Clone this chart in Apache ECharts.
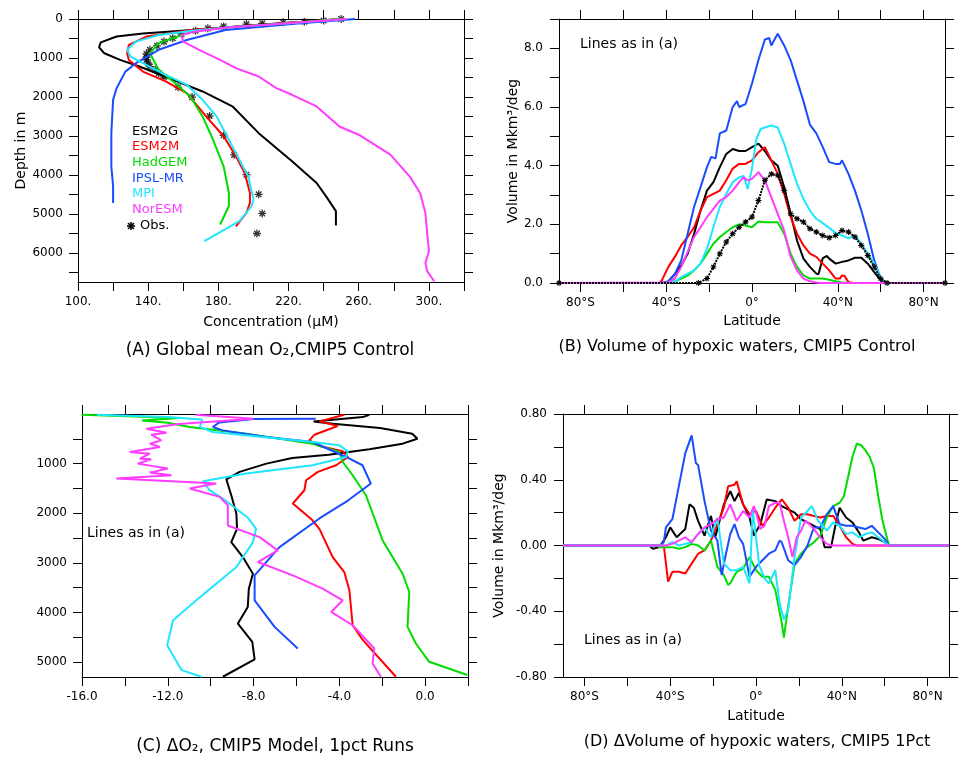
<!DOCTYPE html>
<html>
<head>
<meta charset="utf-8">
<script src="https://cdn.jsdelivr.net/npm/echarts@6/dist/echarts.min.js"></script>
<style>
  html, body { margin: 0; padding: 0; background: #fff; }
  #chart { width: 958px; height: 759px; }
</style>
</head>
<body>
<div id="chart"></div>
<script>
// ---- data ----
// (A) global mean O2 profiles: [concentration uM, depth m]
var esm2gA = [[251,0],[203,150],[165,280],[137,370],[122,450],[113,600],[112,725],[115,880],[124,1050],[135,1220],[152,1520],[171,1860],[188,2240],[203,2930],[222,3650],[236,4210],[242,4590],[247,4930],[247,5300]];
var esm2mA = [[250,0],[205,150],[165,280],[139,450],[129,665],[128,880],[129,1050],[137,1350],[150,1600],[162,1900],[173,2500],[183,3010],[190,3525],[195,3950],[198,4465],[198,4720],[196,4975],[190,5320]];
var hadgemA = [[249,0],[222,100],[185,220],[165,320],[146,620],[141,880],[143,1050],[146,1300],[154,1600],[164,1990],[171,2500],[177,3100],[183,3780],[186,4465],[186,4800],[181,5275]];
var ipslA = [[258,0],[222,130],[184,280],[162,540],[146,790],[133,1135],[127,1350],[122,1775],[120,2075],[119,2930],[119,3780],[120,4290],[120,4720]];
var mpiA = [[253,0],[220,110],[185,220],[165,300],[146,410],[133,580],[128,790],[130,965],[137,1135],[148,1390],[162,1690],[171,2075],[179,2500],[186,3100],[193,3700],[197,4040],[200,4630],[199,4800],[192,5190],[172,5700]];
var norA = [[253,0],[220,110],[185,220],[166,330],[159,410],[160,580],[169,790],[181,1050],[190,1260],[203,1475],[213,1775],[222,1945],[236,2245],[249,2760],[260,2970],[278,3480],[289,4040],[295,4465],[298,4975],[299,5490],[300,5960],[298,6260],[299,6470],[303,6730]];
var obsA = [[250,0],[240,40],[229,70],[217,85],[205,110],[196,130],[183,190],[174,240],[167,300],[159,385],[154,495],[149,580],[145,690],[141,790],[139,895],[139,980],[139,1050],[140,1135],[141,1220],[144,1305],[146,1390],[149,1490],[157,1750],[165,2005],[175,2490],[183,2985],[189,3490],[196,3995],[203,4500],[205,4990],[202,5505]];

// (B) volume of hypoxic waters: [latitude, Mkm3/deg]
var esm2gB = [[-90,0],[-42,0],[-39,0.05],[-36,0.3],[-33,0.6],[-30,1.0],[-27,1.68],[-24,2.47],[-21,3.15],[-18,3.44],[-15,3.95],[-12,4.4],[-9,4.57],[-6,4.5],[-3,4.5],[0,4.63],[3,4.75],[6,4.5],[9,4.18],[12,4.0],[15,3.27],[18,2.36],[21,1.45],[24,0.83],[27,0.55],[30,0.32],[31,0.3],[33,0.85],[35,0.92],[36,0.83],[39,0.66],[42,0.72],[45,0.77],[48,0.86],[51,0.86],[54,0.66],[57,0.37],[60,0.09],[62,0],[90,0]];
var esm2mB = [[-90,0],[-43,0],[-42,0.1],[-39,0.55],[-36,0.89],[-33,1.28],[-30,1.57],[-27,1.9],[-24,2.47],[-21,2.93],[-18,3.04],[-15,3.15],[-12,3.5],[-9,3.9],[-6,4.06],[-3,4.06],[0,4.18],[3,4.46],[6,4.63],[9,4.18],[12,3.72],[15,3.04],[18,2.25],[21,1.68],[24,1.28],[27,1.0],[30,0.89],[33,0.66],[36,0.43],[39,0.15],[41,0.15],[42,0.26],[43,0.25],[45,0.03],[47,0],[90,0]];
var hadgemB = [[-90,0],[-40,0],[-36,0.05],[-33,0.15],[-30,0.26],[-27,0.43],[-24,0.66],[-21,1.0],[-18,1.34],[-15,1.57],[-12,1.74],[-9,1.9],[-6,2.0],[-3,1.96],[0,1.9],[3,2.1],[6,2.07],[9,2.07],[12,2.07],[15,1.68],[18,1.0],[21,0.55],[24,0.26],[27,0.15],[30,0.15],[33,0.15],[36,0.11],[39,0.06],[42,0.02],[45,0],[90,0]];
var ipslB = [[-90,0],[-42,0],[-39,0.05],[-36,0.3],[-33,0.77],[-30,1.68],[-27,2.6],[-24,3.27],[-21,3.95],[-19,4.3],[-17,4.25],[-15,5.1],[-12,5.2],[-9,6.0],[-7,6.2],[-6,6.0],[-3,6.1],[0,6.8],[3,7.6],[6,8.3],[8,8.35],[9,8.1],[12,8.5],[15,8.1],[18,7.6],[21,6.9],[24,6.2],[27,5.4],[30,5.1],[33,4.63],[36,4.12],[39,4.06],[41,4.06],[42,4.18],[45,3.72],[48,3.15],[51,2.47],[54,1.68],[57,0.77],[60,0.15],[63,0],[90,0]];
var mpiB = [[-90,0],[-40,0],[-36,0.05],[-33,0.2],[-30,0.32],[-27,0.43],[-24,0.66],[-21,1.17],[-18,1.9],[-15,2.6],[-12,3.04],[-9,3.44],[-6,3.6],[-4,3.65],[-3,3.44],[-2,3.2],[0,3.9],[2,4.9],[4,5.25],[6,5.3],[9,5.37],[12,5.3],[15,4.75],[18,4.06],[21,3.38],[24,2.87],[27,2.47],[30,2.19],[33,2.04],[36,1.88],[39,1.7],[42,1.62],[45,1.52],[48,1.62],[51,1.34],[54,1.0],[57,0.66],[60,0.2],[62,0],[90,0]];
var norB = [[-90,0],[-39,0.02],[-36,0.15],[-33,0.55],[-30,1.06],[-27,1.57],[-24,1.9],[-21,2.25],[-18,2.53],[-15,2.81],[-12,2.93],[-9,3.15],[-6,3.44],[-4,3.6],[-2,3.5],[0,3.55],[3,3.78],[6,3.5],[9,2.93],[12,2.36],[15,1.79],[18,0.89],[21,0.43],[24,0.15],[27,0.06],[30,0.02],[32,0],[90,0]];
var obsB = [[-90,0],[-25,0],[-21,0.15],[-18,0.55],[-15,1.0],[-12,1.4],[-9,1.68],[-6,1.9],[-3,2.08],[0,2.25],[3,2.81],[6,3.5],[9,3.72],[12,3.67],[15,3.15],[18,2.36],[21,2.19],[24,2.08],[27,1.85],[30,1.74],[33,1.62],[36,1.54],[39,1.62],[42,1.79],[45,1.74],[48,1.57],[51,1.28],[54,0.94],[57,0.55],[60,0.15],[63,0],[90,0]];

// (C) change in O2, 1pct runs: [delta O2, depth m]
var esm2gC = [[-2.6,15],[-2.9,62],[-5.2,149],[-4.3,196],[-2.1,283],[-0.6,397],[-0.36,498],[-1.05,598],[-2.6,712],[-4.5,819],[-6.2,886],[-7.4,1000],[-8.65,1167],[-9.27,1315],[-9.04,1637],[-8.8,2012],[-8.77,2314],[-9.04,2581],[-8.5,2883],[-8.03,3218],[-8.22,3520],[-8.27,3888],[-8.73,4223],[-8.06,4591],[-7.95,4947],[-9.43,5295]];
var esm2mC = [[-3.77,15],[-4.93,149],[-4.08,243],[-5.16,417],[-5.4,531],[-4.93,645],[-3.84,752],[-3.6,866],[-4.15,1033],[-5.0,1167],[-5.55,1335],[-5.63,1536],[-6.17,1804],[-5.3,2120],[-4.93,2314],[-4.31,2883],[-3.77,3185],[-3.53,3553],[-3.38,4257],[-2.9,4558],[-1.36,5295]];
var hadgemC = [[-16,15],[-11.5,80],[-13.2,130],[-12.0,175],[-10.98,263],[-8.34,397],[-5.24,598],[-4.0,766],[-3.84,967],[-3.38,1234],[-2.76,1637],[-2.37,2092],[-1.98,2548],[-1.05,3218],[-0.74,3587],[-0.82,4290],[-0.43,4625],[0.19,4994],[1.97,5261]];
var ipslC = [[-5.1,95],[-8.0,100],[-9.6,170],[-9.9,263],[-9.43,330],[-7.4,464],[-5.24,565],[-3.69,866],[-2.92,1033],[-2.53,1402],[-3.6,1744],[-4.93,2105],[-6.79,2682],[-7.95,3251],[-7.95,3754],[-7.02,4290],[-5.94,4725]];
var mpiC = [[-15.3,15],[-12.0,60],[-10.4,110],[-10.36,129],[-10.5,263],[-9.9,364],[-7.57,464],[-5.24,565],[-4.0,632],[-3.6,752],[-3.69,866],[-5.24,1033],[-8.34,1201],[-10.36,1355],[-10.05,1536],[-9.43,1704],[-8.26,2092],[-7.88,2314],[-8.03,2581],[-8.8,3084],[-10.67,3754],[-11.75,4156],[-12.03,4658],[-11.36,5161],[-10.43,5295]];
var norC = [[-10.7,15],[-8.0,95],[-11.5,200],[-13.0,297],[-12.06,377],[-12.77,417],[-12.3,531],[-12.84,598],[-12.37,665],[-13.77,766],[-12.84,799],[-13.3,900],[-12.77,913],[-13.4,1000],[-12.0,1100],[-12.84,1181],[-11.83,1234],[-14.4,1302],[-9.74,1402],[-10.98,1503],[-9.58,1670],[-9.2,1838],[-9.2,2247],[-7.72,2481],[-6.87,2749],[-7.8,2983],[-6.17,3251],[-4.78,3520],[-3.84,3754],[-4.38,3989],[-3.38,4257],[-2.37,4725],[-2.45,5027],[-2.06,5295]];

// (D) change in hypoxic volume: [latitude, Mkm3/deg]
var esm2gD = [[-90,0],[-50,0],[-48,-0.02],[-45,-0.01],[-42,0.05],[-40,0.11],[-37,0.05],[-33,0.10],[-31,0.25],[-29,0.23],[-27,0.15],[-24,0.06],[-21,0.18],[-19,0.05],[-15,0.25],[-12,0.33],[-10,0.27],[-8,0.32],[-6,0.25],[-3,0.17],[-1,0.06],[2,0.13],[5,0.28],[9,0.27],[12,0.24],[15,0.22],[18,0.2],[21,0.16],[24,0.14],[27,0.12],[30,0.1],[32,-0.01],[35,-0.01],[37,0.12],[39,0.23],[42,0.17],[45,0.14],[48,0.08],[50,0.03],[54,0.05],[57,0.04],[60,0.02],[62,0],[90,0]];
var esm2mD = [[-90,0],[-43,0],[-41,-0.22],[-39,-0.16],[-36,-0.16],[-33,-0.17],[-30,-0.11],[-27,-0.05],[-24,-0.03],[-21,0.03],[-18,0.13],[-15,0.23],[-13,0.36],[-10,0.37],[-9,0.39],[-6,0.25],[-3,0.19],[0,0.21],[3,0.12],[6,0.17],[9,0.23],[12,0.28],[15,0.23],[18,0.15],[21,0.19],[24,0.19],[27,0.18],[30,0.17],[33,0.18],[36,0.18],[39,0.12],[42,0.05],[45,0.01],[47,0],[90,0]];
var hadgemD = [[-90,0],[-46,0],[-45,-0.01],[-42,-0.01],[-39,-0.01],[-36,-0.02],[-33,-0.01],[-30,0.01],[-27,0.0],[-24,-0.03],[-21,0.03],[-18,-0.13],[-15,-0.18],[-13,-0.24],[-12,-0.23],[-9,-0.16],[-6,-0.14],[-3,-0.07],[0,-0.15],[3,-0.19],[6,-0.19],[9,-0.27],[12,-0.47],[13,-0.56],[15,-0.37],[18,-0.11],[21,-0.05],[24,-0.01],[27,0.02],[30,0.06],[33,0.17],[36,0.24],[39,0.26],[41,0.30],[43,0.42],[45,0.54],[47,0.62],[49,0.61],[51,0.58],[53,0.54],[55,0.47],[57,0.30],[59,0.15],[62,0],[90,0]];
var ipslD = [[-90,0],[-45,0],[-43,0.02],[-42,0.11],[-39,0.16],[-36,0.36],[-33,0.56],[-30,0.67],[-28,0.5],[-27,0.49],[-24,0.27],[-21,0.09],[-18,0.03],[-16,-0.18],[-14,-0.05],[-12,0.07],[-10,0.13],[-8,0.05],[-6,0.01],[-3,-0.19],[0,-0.13],[3,-0.09],[6,-0.05],[9,-0.03],[11,0.03],[12,0.02],[15,-0.09],[18,-0.12],[21,-0.07],[24,0.0],[27,0.11],[30,0.11],[33,0.19],[36,0.24],[39,0.13],[42,0.12],[45,0.12],[48,0.11],[51,0.10],[54,0.12],[57,0.08],[60,0.04],[62,0],[90,0]];
var mpiD = [[-90,0],[-42,0],[-39,0.02],[-36,0.0],[-33,0.01],[-30,0.02],[-27,0.07],[-24,0.11],[-21,0.05],[-18,0.17],[-15,-0.11],[-12,-0.15],[-9,-0.15],[-6,-0.13],[-3,-0.23],[-1.5,0.22],[0,0.05],[1.5,-0.12],[4,-0.2],[6,-0.23],[9,-0.15],[11,-0.35],[13,-0.45],[15,-0.39],[18,-0.07],[21,0.17],[24,0.21],[26,0.24],[29,0.15],[33,0.09],[36,0.14],[39,0.12],[42,0.07],[45,0.08],[48,0.05],[51,0.07],[54,0.08],[57,0.05],[60,0.02],[62,0],[90,0]];
var norD = [[-90,0],[-42,0],[-39,0.01],[-36,0.03],[-33,0.05],[-30,0.02],[-27,0.07],[-24,0.11],[-21,0.13],[-18,0.16],[-15,0.17],[-12,0.25],[-9,0.15],[-6,0.21],[-3,0.17],[-1,0.24],[0,0.2],[2,0.1],[4,0.12],[6,0.24],[9,0.26],[11,0.26],[13,0.15],[15,0.05],[17,-0.07],[19,0.05],[21,0.09],[23,0.15],[25,0.13],[27,0.1],[30,0.05],[33,0.01],[35,0],[90,0]];

// tick positions and labels
var concTicks = [100,120,140,160,180,200,220,240,260,280,300,320];
var concLabels = [100,140,180,220,260,300];
var depthTicksA = [0,500,1000,1500,2000,2500,3000,3500,4000,4500,5000,5500,6000,6500];
var depthLabelsA = [0,1000,2000,3000,4000,5000,6000];
var latTicks = [-80,-60,-40,-20,0,20,40,60,80];
var latLabels = [-80,-40,0,40,80];
var volTicksB = [0,1,2,3,4,5,6,7,8,9];
var volLabelsB = [0,2,4,6,8];
var dO2Ticks = [-16,-14,-12,-10,-8,-6,-4,-2,0,2];
var dO2Labels = [-16,-12,-8,-4,0];
var depthTicksC = [500,1000,1500,2000,2500,3000,3500,4000,4500,5000];
var depthLabelsC = [1000,2000,3000,4000,5000];
var dVolTicks = [-0.8,-0.6,-0.4,-0.2,0,0.2,0.4,0.6,0.8];
var dVolLabels = [-0.8,-0.4,0,0.4,0.8];

var modelNames = ['ESM2G','ESM2M','HadGEM','IPSL-MR','MPI','NorESM'];
var colors = ['#000000','#ff0000','#00dc00','#1a4cff','#1ee6ff','#ff3cff'];

var FONT = '"DejaVu Sans", sans-serif';
var ASTER = 'path://M-0.8,-5L0.8,-5L0.8,5L-0.8,5Z M-5,-0.8L5,-0.8L5,0.8L-5,0.8Z M-4.1,-2.9L-2.9,-4.1L4.1,2.9L2.9,4.1Z M-4.1,2.9L2.9,-4.1L4.1,-2.9L-2.9,4.1Z';

function latFmt(v) {
  if (v === 0) return '0°';
  return Math.abs(v) + '°' + (v < 0 ? 'S' : 'N');
}

var lineBase = { color: '#000', width: 1 };

// one main axis plus its mirror on the opposite side, for a frame with ticks all round
function axes(dim, gi, o) {
  var main = {
    type: 'value', gridIndex: gi, min: o.min, max: o.max, inverse: !!o.inverse,
    position: dim === 'x' ? 'bottom' : 'left',
    axisLine: { show: true, onZero: false, lineStyle: lineBase },
    axisTick: { show: true, length: 9, customValues: o.ticks, lineStyle: lineBase },
    axisLabel: { show: true, customValues: o.labels, formatter: o.fmt, color: '#000',
                 fontSize: 12, fontFamily: FONT, margin: o.margin || 14 },
    splitLine: { show: false },
    name: o.name || '', nameLocation: 'middle', nameGap: o.nameGap || 30,
    nameTextStyle: { color: '#000', fontSize: 14, fontFamily: FONT }
  };
  var mirror = {
    type: 'value', gridIndex: gi, min: o.min, max: o.max, inverse: !!o.inverse,
    position: dim === 'x' ? 'top' : 'right',
    axisLine: { show: true, onZero: false, lineStyle: lineBase },
    axisTick: { show: true, length: 9, customValues: o.ticks, lineStyle: lineBase },
    axisLabel: { show: false },
    splitLine: { show: false }
  };
  return [main, mirror];
}

var xAxes = [].concat(
  axes('x', 0, { min: 100, max: 320, ticks: concTicks, labels: concLabels,
    fmt: function (v) { return v + '.'; }, name: 'Concentration (μM)', nameGap: 33 }),
  axes('x', 1, { min: -90, max: 90, ticks: latTicks, labels: latLabels, fmt: latFmt,
    name: 'Latitude', nameGap: 31 }),
  axes('x', 2, { min: -16, max: 2, ticks: dO2Ticks, labels: dO2Labels,
    fmt: function (v) { return v.toFixed(1); } }),
  axes('x', 3, { min: -90, max: 90, ticks: latTicks, labels: latLabels, fmt: latFmt,
    name: 'Latitude', nameGap: 32 })
);
var yAxes = [].concat(
  axes('y', 0, { min: 0, max: 6750, inverse: true, ticks: depthTicksA, labels: depthLabelsA,
    fmt: function (v) { return String(v); }, name: 'Depth in m', nameGap: 50, margin: 15 }),
  axes('y', 1, { min: 0, max: 9, ticks: volTicksB, labels: volLabelsB,
    fmt: function (v) { return v.toFixed(1); }, name: 'Volume in Mkm³/deg', nameGap: 39, margin: 16 }),
  axes('y', 2, { min: 0, max: 5300, inverse: true, ticks: depthTicksC, labels: depthLabelsC,
    fmt: function (v) { return String(v); }, margin: 15 }),
  axes('y', 3, { min: -0.8, max: 0.8, ticks: dVolTicks, labels: dVolLabels,
    fmt: function (v) { return v.toFixed(2); }, name: 'Volume in Mkm³/deg', nameGap: 57, margin: 16 })
);

var series = [];
function addLines(gi, sets) {
  sets.forEach(function (d, i) {
    series.push({
      type: 'line', xAxisIndex: gi * 2, yAxisIndex: gi * 2, data: d,
      showSymbol: false, smooth: false, silent: true,
      lineStyle: { color: colors[i], width: 2 }, itemStyle: { color: colors[i] }
    });
  });
}
addLines(0, [esm2gA, esm2mA, hadgemA, ipslA, mpiA, norA]);
series.push({ type: 'scatter', xAxisIndex: 0, yAxisIndex: 0, data: obsA,
  symbol: ASTER, symbolSize: 8, itemStyle: { color: '#000' }, silent: true });
addLines(1, [esm2gB, esm2mB, hadgemB, ipslB, mpiB, norB]);
series.push({ type: 'line', xAxisIndex: 2, yAxisIndex: 2, data: obsB,
  symbol: ASTER, symbolSize: 6, showAllSymbol: true, silent: true,
  lineStyle: { color: '#000', width: 2, type: [2, 1] }, itemStyle: { color: '#000' } });
addLines(2, [esm2gC, esm2mC, hadgemC, ipslC, mpiC, norC]);
addLines(3, [esm2gD, esm2mD, hadgemD, ipslD, mpiD, norD]);

// legend of panel A and text labels
var graphics = [];
function txt(x, y, s, size, color, align) {
  graphics.push({ type: 'text', x: x, y: y, silent: true,
    style: { text: s, fill: color || '#000', font: size + 'px ' + FONT,
             align: align || 'left', verticalAlign: 'middle' } });
}
var legendY = [132, 147, 163, 179, 194, 210];
modelNames.forEach(function (n, i) { txt(132, legendY[i], n, 13, colors[i]); });
// asterisk marker for the Obs. legend entry
[[-4, 0, 4, 0], [0, -4, 0, 4], [-3, -3, 3, 3], [-3, 3, 3, -3]].forEach(function (s) {
  graphics.push({ type: 'line', silent: true, x: 131, y: 226,
    shape: { x1: s[0], y1: s[1], x2: s[2], y2: s[3] },
    style: { stroke: '#000', lineWidth: 1.6 } });
});
txt(140, 226, 'Obs.', 13, '#000');
txt(580, 44, 'Lines as in (a)', 14);
txt(87, 533, 'Lines as in (a)', 14);
txt(584, 640, 'Lines as in (a)', 14);
txt(270, 351, '(A) Global mean O₂,CMIP5 Control', 17, '#000', 'center');
txt(737, 347, '(B) Volume of hypoxic waters, CMIP5 Control', 16, '#000', 'center');
txt(275, 747, '(C) ΔO₂, CMIP5 Model, 1pct Runs', 17, '#000', 'center');
txt(757, 742, '(D) ΔVolume of hypoxic waters, CMIP5 1Pct', 16, '#000', 'center');

var chart = echarts.init(document.getElementById('chart'), null, { renderer: 'canvas' });
chart.setOption({
  animation: false,
  backgroundColor: '#fff',
  grid: [
    { left: 78, top: 19, width: 386, height: 263, outerBoundsMode: 'none' },
    { left: 559, top: 19, width: 386, height: 264, outerBoundsMode: 'none' },
    { left: 82, top: 414, width: 386, height: 263, outerBoundsMode: 'none' },
    { left: 563, top: 414, width: 386, height: 263, outerBoundsMode: 'none' }
  ],
  xAxis: xAxes,
  yAxis: yAxes,
  series: series,
  graphic: graphics
});
</script>
</body>
</html>
